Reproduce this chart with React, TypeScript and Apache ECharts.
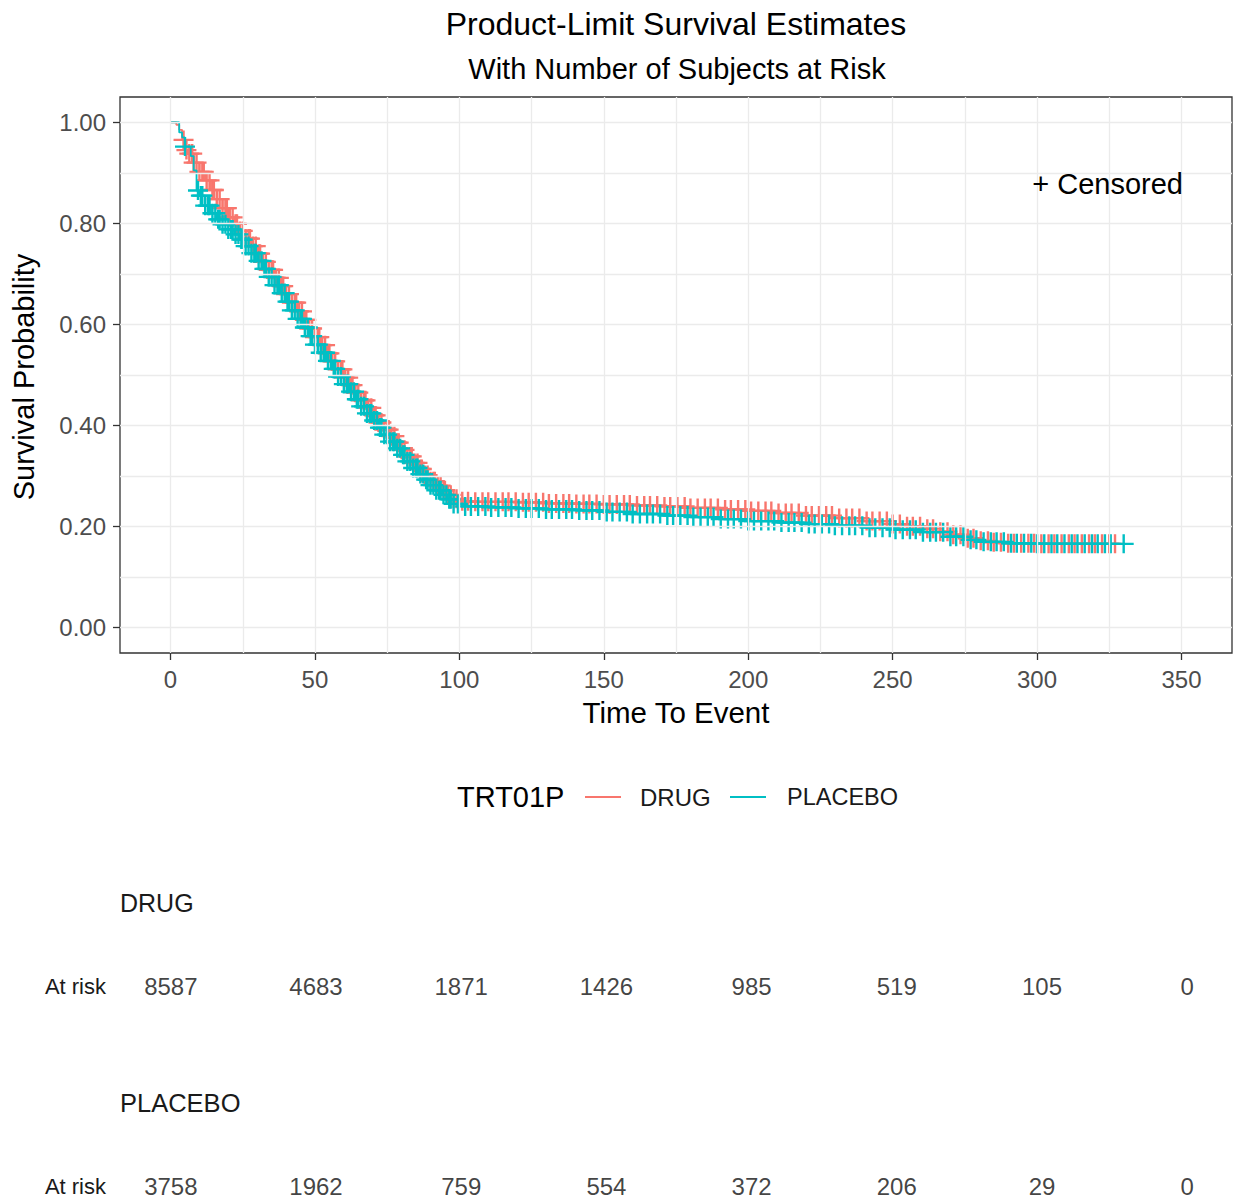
import React, { useEffect, useRef } from "react";
import * as echarts from "echarts";

// ---- axis ticks / grid ----
const xTicks = [0, 50, 100, 150, 200, 250, 300, 350];
const yTicks = [0, 0.2, 0.4, 0.6, 0.8, 1.0];
const xGridLines = [0, 25, 50, 75, 100, 125, 150, 175, 200, 225, 250, 275, 300, 325, 350];
const yGridLines = [0, 0.1, 0.2, 0.3, 0.4, 0.5, 0.6, 0.7, 0.8, 0.9, 1.0];

// ---- DRUG Kaplan-Meier step curve ----
const drugTimes = [0, 2, 3, 4, 5, 6, 8, 10, 12, 14, 16, 18, 20, 22, 24, 26, 28, 30, 32, 34, 36, 38, 40, 42, 44, 46, 48, 50, 52, 54, 56, 58, 60, 62, 64, 66, 68, 70, 72, 74, 76, 78, 80, 82, 84, 86, 88, 90, 92, 94, 96, 98, 100, 105, 110, 120, 130, 140, 150, 160, 170, 180, 190, 200, 210, 220, 230, 240, 250, 255, 260, 265, 270, 275, 280, 285, 290, 300, 327];
const drugSurv = [1.0, 0.995, 0.985, 0.965, 0.945, 0.938, 0.92, 0.902, 0.885, 0.866, 0.848, 0.83, 0.812, 0.799, 0.785, 0.77, 0.755, 0.74, 0.724, 0.708, 0.692, 0.676, 0.66, 0.643, 0.626, 0.609, 0.592, 0.575, 0.559, 0.543, 0.527, 0.511, 0.495, 0.48, 0.465, 0.45, 0.435, 0.42, 0.406, 0.392, 0.379, 0.366, 0.352, 0.339, 0.326, 0.314, 0.302, 0.29, 0.281, 0.272, 0.263, 0.255, 0.25, 0.249, 0.249, 0.248, 0.246, 0.245, 0.244, 0.242, 0.24, 0.237, 0.234, 0.231, 0.227, 0.222, 0.217, 0.211, 0.205, 0.201, 0.196, 0.19, 0.184, 0.177, 0.172, 0.169, 0.167, 0.166, 0.166];
const drugCensor = [4.5, 5.5, 6.5, 7.5, 8, 9, 10, 11, 11.5, 12.5, 13.5, 14.5, 15, 16, 17, 18, 19, 19.5, 20.5, 21.5, 22.5, 23, 24, 25, 26, 27, 27.5, 28.5, 29.5, 30.5, 31, 32, 33, 34, 35, 35.5, 36.5, 37.5, 38.5, 39, 40, 41, 42, 43, 43.5, 44.5, 45.5, 46.5, 47, 48, 49, 50, 51, 51.5, 52.5, 53.5, 54.5, 55, 56, 57, 58, 59, 59.5, 60.5, 61.5, 62.5, 63, 64, 65, 66, 67, 67.5, 68.5, 69.5, 70.5, 71, 72, 73, 74, 75, 75.5, 76.5, 77.5, 78.5, 79, 80, 81, 82, 83, 83.5, 84.5, 85.5, 86.5, 87, 88, 89, 90, 91, 91.5, 92.5, 93.5, 94.5, 95, 96, 97, 98, 99, 101, 103, 105.5, 108, 110, 112.5, 115, 117, 119.5, 122, 124, 126.5, 129, 131, 133.5, 136, 138, 140.5, 143, 145, 147.5, 150, 152, 154.5, 157, 159, 161.5, 164, 166, 168.5, 171, 173, 175.5, 178, 180, 182.5, 185, 187, 189.5, 192, 194, 196.5, 199, 201, 203.5, 206, 208, 210.5, 213, 215, 217.5, 220, 222, 224.5, 227, 229, 231.5, 234, 236, 238.5, 241, 243, 245.5, 248, 250, 252.5, 255, 257, 259.5, 262, 264, 266.5, 269, 271, 273.5, 276, 278, 280.5, 283, 285, 287.5, 290, 292, 294.5, 297, 299, 301.5, 304, 306, 308.5, 311, 313, 315.5, 318, 320, 322.5, 325, 327];

// ---- PLACEBO Kaplan-Meier step curve ----
const placeboTimes = [0, 2, 3, 4, 5, 7, 8, 9, 10, 12, 14, 16, 18, 20, 22, 24, 26, 28, 30, 32, 34, 36, 38, 40, 42, 44, 46, 48, 50, 52, 54, 56, 58, 60, 62, 64, 66, 68, 70, 72, 74, 76, 78, 80, 82, 84, 86, 88, 90, 92, 94, 96, 98, 100, 110, 120, 130, 140, 150, 160, 170, 180, 190, 200, 210, 220, 230, 240, 250, 260, 270, 275, 280, 290, 300, 330];
const placeboSurv = [1.0, 1.0, 0.98, 0.97, 0.952, 0.933, 0.905, 0.865, 0.855, 0.835, 0.82, 0.808, 0.798, 0.788, 0.778, 0.768, 0.755, 0.741, 0.726, 0.71, 0.694, 0.678, 0.662, 0.645, 0.628, 0.611, 0.594, 0.577, 0.56, 0.544, 0.528, 0.512, 0.497, 0.482, 0.467, 0.452, 0.438, 0.424, 0.41, 0.396, 0.382, 0.368, 0.355, 0.342, 0.329, 0.316, 0.304, 0.293, 0.282, 0.272, 0.263, 0.254, 0.245, 0.24, 0.238, 0.236, 0.234, 0.232, 0.229, 0.225, 0.222, 0.219, 0.215, 0.211, 0.208, 0.205, 0.202, 0.198, 0.194, 0.189, 0.18, 0.174, 0.17, 0.167, 0.166, 0.166];
const placeboCensor = [5, 9.5, 10.5, 11, 12, 13, 13.5, 14.5, 15.5, 16.5, 17, 18, 19, 20, 21, 21.5, 22.5, 23.5, 24.5, 25, 26, 27, 28, 29, 29.5, 30.5, 31.5, 32.5, 33, 34, 35, 36, 37, 37.5, 38.5, 39.5, 40.5, 41, 42, 43, 44, 45, 45.5, 46.5, 47.5, 48.5, 49, 50, 51, 52, 53, 53.5, 54.5, 55.5, 56.5, 57, 58, 59, 60, 61, 61.5, 62.5, 63.5, 64.5, 65, 66, 67, 68, 69, 69.5, 70.5, 71.5, 72.5, 73, 74, 75, 76, 77, 77.5, 78.5, 79.5, 80.5, 81, 82, 83, 84, 85, 85.5, 86.5, 87.5, 88.5, 89, 90, 91, 92, 93, 93.5, 94.5, 95.5, 96.5, 97, 98, 99.5, 102, 104, 106.5, 109, 111, 113.5, 116, 118, 120.5, 123, 125, 127.5, 130, 132, 134.5, 137, 139, 141.5, 144, 146, 148.5, 151, 153, 155.5, 158, 160, 162.5, 165, 167, 169.5, 172, 174, 176.5, 179, 181, 183.5, 186, 188, 190.5, 193, 195, 197.5, 200, 202, 204.5, 207, 209, 211.5, 214, 216, 218.5, 221, 223, 225.5, 228, 230, 232.5, 235, 237, 239.5, 242, 244, 246.5, 249, 251, 253.5, 256, 258, 260.5, 263, 265, 267.5, 270, 272, 274.5, 277, 279, 281.5, 284, 286, 288.5, 291, 293, 295.5, 298, 300, 302.5, 305, 307, 309.5, 312, 314, 316.5, 319, 321, 323.5, 325.5, 330];

// ---- Number at risk ----
const atRiskTimes = [0, 50, 100, 150, 200, 250, 300, 350];
const drugAtRisk = [8587, 4683, 1871, 1426, 985, 519, 105, 0];
const placeboAtRisk = [3758, 1962, 759, 554, 372, 206, 29, 0];

const RED = "#F8766D";
const TEAL = "#00BFC4";
const FONT = '"Liberation Sans", Arial, sans-serif';
const PLUS = "path://M8.8,0H11.2V8.8H20V11.2H11.2V20H8.8V11.2H0V8.8H8.8Z";

function kmAt(times: number[], surv: number[], t: number): number {
  let s = surv[0];
  for (let i = 0; i < times.length; i++) {
    if (times[i] <= t) s = surv[i];
  }
  return s;
}

function txt(text: string, x: number, y: number, size: number, align: string, color = "#000", rotation = 0) {
  return {
    type: "text",
    x,
    y,
    z: 100,
    rotation,
    silent: true,
    style: {
      text,
      font: `${size}px ${FONT}`,
      fill: color,
      textAlign: align,
      textVerticalAlign: "middle",
    },
  };
}

export default function App() {
  const ref = useRef<HTMLDivElement>(null);
  useEffect(() => {
    document.body.style.margin = "0";
    const chart = echarts.init(ref.current!, null, { renderer: "svg" });
    const gridMarks = [
      ...xGridLines.map((v) => ({ xAxis: v })),
      ...yGridLines.map((v) => ({ yAxis: v })),
    ];
    const option: any = {
      animation: false,
      backgroundColor: "#fff",
      grid: [
        { left: 120, top: 97, width: 1112, height: 556, show: true, borderColor: "#333333", borderWidth: 1.3, backgroundColor: "transparent", z: 5 },
        { left: 120, top: 986, width: 1118, height: 200 },
      ],
      xAxis: [
        {
          type: "value", gridIndex: 0, min: -17.5, max: 367.5, position: "bottom",
          axisLine: { show: false, onZero: false },
          splitLine: { show: false },
          axisTick: { show: true, customValues: xTicks, length: 7, lineStyle: { color: "#333333", width: 1.3 } },
          axisLabel: { customValues: xTicks, color: "#4D4D4D", fontSize: 24, fontFamily: FONT, margin: 14 },
        },
        { type: "value", gridIndex: 1, min: -17.5, max: 367.5, show: false },
      ],
      yAxis: [
        {
          type: "value", gridIndex: 0, min: -0.05, max: 1.05, position: "left",
          axisLine: { show: false, onZero: false },
          splitLine: { show: false },
          axisTick: { show: true, customValues: yTicks, length: 7, lineStyle: { color: "#333333", width: 1.3 } },
          axisLabel: { customValues: yTicks, color: "#4D4D4D", fontSize: 24, fontFamily: FONT, margin: 14, formatter: (v: number) => v.toFixed(2) },
        },
        { type: "value", gridIndex: 1, min: 0, max: 1, show: false },
      ],
      series: [
        {
          type: "line", xAxisIndex: 0, yAxisIndex: 0, data: [], z: 1, silent: true,
          markLine: {
            silent: true, symbol: ["none", "none"], label: { show: false },
            lineStyle: { color: "#EBEBEB", width: 1.3, type: "solid" },
            emphasis: { disabled: true },
            data: gridMarks,
          },
        },
        {
          name: "DRUG", type: "line", step: "end", showSymbol: false, z: 3,
          data: drugTimes.map((t, i) => [t, drugSurv[i]]),
          lineStyle: { color: RED, width: 1.8 }, itemStyle: { color: RED },
        },
        {
          name: "DRUG censored", type: "scatter", z: 3, symbol: PLUS, symbolSize: [20, 19],
          data: drugCensor.map((t) => [t, kmAt(drugTimes, drugSurv, t)]),
          itemStyle: { color: RED, opacity: 1 },
        },
        {
          name: "PLACEBO", type: "line", step: "end", showSymbol: false, z: 4,
          data: placeboTimes.map((t, i) => [t, placeboSurv[i]]),
          lineStyle: { color: TEAL, width: 1.8 }, itemStyle: { color: TEAL },
        },
        {
          name: "PLACEBO censored", type: "scatter", z: 4, symbol: PLUS, symbolSize: [20, 19],
          data: placeboCensor.map((t) => [t, kmAt(placeboTimes, placeboSurv, t)]),
          itemStyle: { color: TEAL, opacity: 1 },
        },
        {
          type: "scatter", xAxisIndex: 1, yAxisIndex: 1, symbolSize: 1, itemStyle: { color: "transparent" },
          data: atRiskTimes.map((t, i) => [t, 1, drugAtRisk[i]]),
          label: { show: true, position: "inside", formatter: (p: any) => String(p.value[2]), color: "#111111", fontSize: 24, fontFamily: FONT },
        },
        {
          type: "scatter", xAxisIndex: 1, yAxisIndex: 1, symbolSize: 1, itemStyle: { color: "transparent" },
          data: atRiskTimes.map((t, i) => [t, 0, placeboAtRisk[i]]),
          label: { show: true, position: "inside", formatter: (p: any) => String(p.value[2]), color: "#111111", fontSize: 24, fontFamily: FONT },
        },
      ],
      graphic: [
        txt("Product-Limit Survival Estimates", 676, 24, 32, "center"),
        txt("With Number of Subjects at Risk", 677, 69, 29, "center"),
        txt("Survival Probability", 24, 377, 29, "center", "#000", Math.PI / 2),
        txt("Time To Event", 676, 712, 29.5, "center"),
        txt("+ Censored", 1183, 184, 29, "right"),
        txt("TRT01P", 457, 797, 29, "left"),
        { type: "line", z: 100, silent: true, shape: { x1: 585, y1: 797, x2: 621, y2: 797 }, style: { stroke: RED, lineWidth: 2 } },
        txt("DRUG", 640, 797, 24, "left", "#1A1A1A"),
        { type: "line", z: 100, silent: true, shape: { x1: 730, y1: 797, x2: 766, y2: 797 }, style: { stroke: TEAL, lineWidth: 2 } },
        txt("PLACEBO", 787, 797, 23.5, "left", "#1A1A1A"),
        txt("DRUG", 120, 903, 25, "left", "#1A1A1A"),
        txt("At risk", 106, 986, 22, "right", "#1A1A1A"),
        txt("PLACEBO", 120, 1103, 25.5, "left", "#1A1A1A"),
        txt("At risk", 106, 1186, 22, "right", "#1A1A1A"),
      ],
    };
    chart.setOption(option);
    return () => chart.dispose();
  }, []);
  return <div ref={ref} style={{ width: 1240, height: 1201 }} />;
}
